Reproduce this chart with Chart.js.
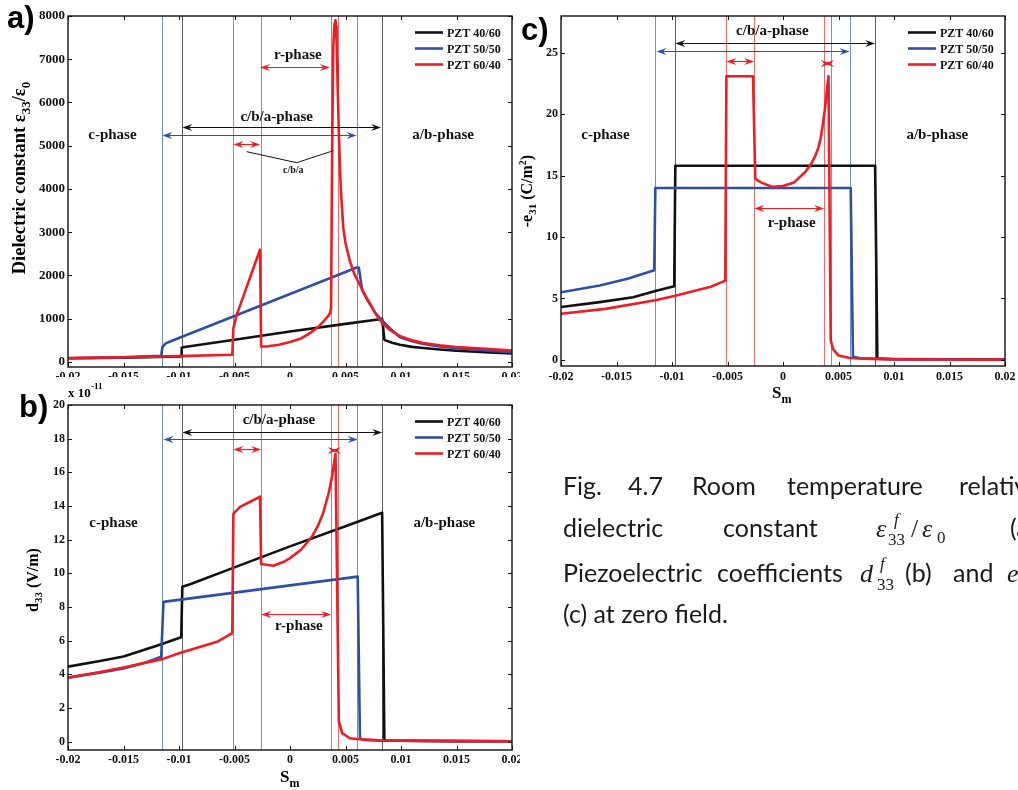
<!DOCTYPE html>
<html>
<head>
<meta charset="utf-8">
<script src="https://cdn.jsdelivr.net/npm/chart.js@4.4.1/dist/chart.umd.min.js"></script>
<style>
html,body{margin:0;padding:0;background:#fff;width:1018px;height:790px;overflow:hidden;}
.box{position:absolute;}
.box canvas{display:block;}
#ov{position:absolute;left:0;top:0;pointer-events:none;}
</style>
</head>
<body>
<div class="box" style="left:0;top:0;width:520px;height:377px"><canvas id="ca" width="520" height="377"></canvas></div>
<div class="box" style="left:0;top:380px;width:520px;height:410px"><canvas id="cb" width="520" height="410"></canvas></div>
<div class="box" style="left:520px;top:0;width:498px;height:400px"><canvas id="cc" width="498" height="400"></canvas></div>

<svg id="ov" width="1018" height="790" xmlns="http://www.w3.org/2000/svg">
  <g font-family="Liberation Sans, Arial, sans-serif" font-weight="bold" font-size="31" fill="#000">
    <text x="7" y="28">a)</text>
    <text x="19" y="417">b)</text>
    <text x="521" y="40">c)</text>
  </g>
  <g font-family="Liberation Serif, Times New Roman, serif" font-weight="bold" fill="#000">
    <text font-size="18.5" text-anchor="middle" transform="translate(25,178) rotate(-90)">Dielectric constant ε<tspan font-size="13" dy="5">33</tspan><tspan dy="-5">/ε</tspan><tspan font-size="13" dy="5">0</tspan></text>
    <text font-size="16" text-anchor="middle" transform="translate(38,580) rotate(-90)">d<tspan font-size="11" dy="4">33</tspan><tspan dy="-4"> (V/m)</tspan></text>
    <text font-size="16" text-anchor="middle" transform="translate(532,191) rotate(-90)">-e<tspan font-size="11" dy="4">31</tspan><tspan dy="-4"> (C/m</tspan><tspan font-size="10" dy="-6">2</tspan><tspan dy="6">)</tspan></text>
    <text x="280" y="782" font-size="17">S<tspan font-size="12" dy="5">m</tspan></text>
    <text x="772" y="398" font-size="17">S<tspan font-size="12" dy="5">m</tspan></text>
    <text x="68" y="397" font-size="13">x 10</text>
    <text x="91" y="389" font-size="9">-11</text>
  </g>
  <g font-family="Lato, Open Sans, sans-serif" font-size="25" fill="#1a1a1a">
    <text x="563" y="495">Fig.</text>
    <text x="628" y="495">4.7</text>
    <text x="692" y="495">Room</text>
    <text x="787" y="495">temperature</text>
    <text x="959" y="495">relative</text>
    <text x="563" y="537">dielectric</text>
    <text x="723" y="537">constant</text>
    <text x="1010" y="537">(a),</text>
    <text x="563" y="582">Piezoelectric</text>
    <text x="717" y="582">coefficients</text>
    <text x="905" y="582">(b)</text>
    <text x="953" y="582">and</text>
    <text x="563" y="623">(c) at zero field.</text>
  </g>
  <g font-family="Liberation Serif, serif" fill="#1a1a1a">
    <text x="876" y="537" font-size="26" font-style="italic">ε</text>
    <text x="894" y="525" font-size="17" font-style="italic">f</text>
    <text x="888" y="545" font-size="17">33</text>
    <text x="911" y="537" font-size="26">/</text>
    <text x="922" y="537" font-size="26" font-style="italic">ε</text>
    <text x="937" y="543" font-size="17">0</text>
    <text x="860" y="582" font-size="26" font-style="italic">d</text>
    <text x="880" y="569" font-size="17" font-style="italic">f</text>
    <text x="877" y="590" font-size="17">33</text>
    <text x="1007" y="582" font-size="26" font-style="italic">e</text>
  </g>
</svg>

<script>
// ---------------- tick values ----------------
const xTicks  = [-0.02, -0.015, -0.01, -0.005, 0, 0.005, 0.01, 0.015, 0.02];
const yTicksA = [0, 1000, 2000, 3000, 4000, 5000, 6000, 7000, 8000];
const yTicksB = [0, 2, 4, 6, 8, 10, 12, 14, 16, 18, 20];
const yTicksC = [0, 5, 10, 15, 20, 25];

// ---------------- series ----------------
const seriesNames  = ['PZT 40/60', 'PZT 50/50', 'PZT 60/40'];
const seriesColors = ['#111111', '#2f4fa6', '#ee1c25'];

// (a) dielectric constant eps33/eps0 vs misfit strain S_m
const sA_4060   = [-0.02, -0.015, -0.0098, -0.00976, -0.0095, -0.005, 0, 0.005, 0.0081, 0.0083, 0.0085, 0.0086, 0.0092, 0.0099, 0.011, 0.012, 0.0135, 0.015, 0.018, 0.02];
const epsA_4060 = [85, 100, 130, 330, 345, 515, 705, 881, 990, 1000, 520, 500, 445, 400, 350, 322, 288, 260, 221, 195];
const sA_5050   = [-0.02, -0.015, -0.0116, -0.0115, -0.0112, -0.0108, -0.005, 0, 0.005, 0.006, 0.0062, 0.0065, 0.007, 0.0077, 0.0083, 0.009, 0.0099, 0.011, 0.012, 0.0135, 0.015, 0.018, 0.02];
const epsA_5050 = [85, 110, 145, 345, 430, 474, 1064, 1572, 2081, 2183, 2183, 1662, 1420, 1130, 960, 780, 570, 480, 415, 360, 320, 258, 225];
const sA_6040   = [-0.02, -0.015, -0.01, -0.0052, -0.0051, -0.0048, -0.0043, -0.0039, -0.0033, -0.0027, -0.0026, -0.002, -0.001, 0, 0.001, 0.0018, 0.0025, 0.003, 0.0034, 0.0036, 0.0037, 0.0038, 0.0039, 0.004, 0.0041, 0.00415, 0.0042, 0.00425, 0.0043, 0.0044, 0.0045, 0.0046, 0.0048, 0.005, 0.0054, 0.0058, 0.0063, 0.0068, 0.0072, 0.0077, 0.0083, 0.009, 0.0099, 0.011, 0.012, 0.0135, 0.015, 0.018, 0.02];
const epsA_6040 = [90, 110, 135, 168, 782, 1087, 1449, 1738, 2168, 2598, 359, 362, 400, 462, 545, 667, 800, 933, 1050, 1126, 1250, 5000, 7300, 7800, 7900, 7750, 7400, 6900, 6300, 5300, 4500, 3900, 3100, 2750, 2330, 2030, 1780, 1530, 1356, 1120, 900, 740, 600, 500, 440, 385, 345, 299, 267];

// (b) d33 (x 1e-11)
const sB_4060 = [-0.02, -0.017, -0.015, -0.012, -0.0098, -0.0097, -0.009, -0.005, 0, 0.005, 0.0083, 0.0085, 0.0087, 0.01, 0.015, 0.02];
const dB_4060 = [4.45, 4.8, 5.05, 5.7, 6.2, 9.2, 9.35, 10.35, 11.6, 12.8, 13.6, 0.1, 0.05, 0.05, 0.03, 0.02];
const sB_5050 = [-0.02, -0.017, -0.015, -0.013, -0.0116, -0.0114, -0.005, 0, 0.0061, 0.0063, 0.0066, 0.008, 0.01, 0.015, 0.02];
const dB_5050 = [3.8, 4.1, 4.35, 4.7, 5.05, 8.3, 8.85, 9.28, 9.8, 0.2, 0.1, 0.06, 0.05, 0.03, 0.02];
const sB_6040 = [-0.02, -0.017, -0.015, -0.0115, -0.01, -0.0065, -0.0052, -0.0051, -0.0045, -0.0027, -0.0026, -0.0015, -0.0005, 0, 0.001, 0.002, 0.0025, 0.003, 0.0035, 0.0038, 0.004, 0.0041, 0.00425, 0.0044, 0.0047, 0.0054, 0.006, 0.008, 0.01, 0.015, 0.02];
const dB_6040 = [3.8, 4.15, 4.4, 4.9, 5.25, 5.95, 6.45, 13.55, 13.95, 14.55, 10.55, 10.45, 10.7, 10.9, 11.4, 12.2, 12.8, 13.6, 14.8, 15.8, 16.7, 17.1, 9, 1.2, 0.5, 0.2, 0.15, 0.08, 0.05, 0.03, 0.02];

// (c) -e31
const sC_4060 = [-0.02, -0.0165, -0.0135, -0.0115, -0.0098, -0.0097, 0.0083, 0.0085, 0.01, 0.015, 0.02];
const eC_4060 = [4.3, 4.7, 5.1, 5.6, 6.0, 15.8, 15.8, 0.1, 0.05, 0.05, 0.03];
const sC_5050 = [-0.02, -0.0165, -0.014, -0.0116, -0.0115, 0.0061, 0.0063, 0.007, 0.01, 0.015, 0.02];
const eC_5050 = [5.5, 6.05, 6.6, 7.3, 14.0, 14.0, 0.25, 0.12, 0.06, 0.05, 0.03];
const sC_6040 = [-0.02, -0.016, -0.0115, -0.0098, -0.0065, -0.0052, -0.0051, -0.0027, -0.0025, -0.002, -0.001, 0, 0.001, 0.002, 0.0025, 0.0029, 0.0032, 0.0034, 0.0036, 0.0038, 0.0039, 0.0041, 0.0042, 0.0043, 0.0045, 0.005, 0.006, 0.008, 0.01, 0.015, 0.02];
const eC_6040 = [3.75, 4.15, 4.85, 5.2, 5.95, 6.45, 23.1, 23.1, 14.75, 14.45, 14.1, 14.15, 14.45, 15.3, 15.9, 16.6, 17.3, 18.1, 19.2, 20.6, 21.5, 23.1, 12, 1.6, 0.9, 0.35, 0.15, 0.08, 0.05, 0.03, 0.02];

// phase-boundary strains (vertical guide lines)
const boundBlue  = [-0.0115, 0.006];
const boundBlack = [-0.0097, 0.0083];
const boundRed   = [-0.0051, -0.0026, 0.0037, 0.0043];

// ---------------- helpers ----------------
const SERIF = '"Liberation Serif", "Times New Roman", serif';
function fmtX(v){ const s = String(parseFloat(Number(v).toFixed(4))); return s === '-0' ? '0' : s; }
function pts(xs, ys){ return xs.map((x, i) => ({x: x, y: ys[i]})); }
function mkSets(triples){
  return triples.map((t, i) => ({
    label: seriesNames[i], data: pts(t[0], t[1]),
    borderColor: seriesColors[i], backgroundColor: seriesColors[i],
    borderWidth: 2.6, pointRadius: 0, fill: false, tension: 0,
    borderJoinStyle: 'round', order: 2 - i
  }));
}

function makeDecor(cfg){
  return {
    id: 'decor',
    beforeDatasetsDraw(chart){
      const {ctx, chartArea: a, scales: {x}} = chart;
      ctx.save();
      ctx.lineWidth = 1;
      const groups = [[boundBlue, 'rgba(70,100,190,0.75)'], [boundBlack, 'rgba(40,40,40,0.75)'], [boundRed, 'rgba(238,40,40,0.7)']];
      for (const [arr, col] of groups){
        ctx.strokeStyle = col;
        for (const s of arr){
          const px = Math.round(x.getPixelForValue(s)) + 0.5;
          ctx.beginPath(); ctx.moveTo(px, a.top); ctx.lineTo(px, a.bottom); ctx.stroke();
        }
      }
      ctx.restore();
    },
    afterDatasetsDraw(chart){
      const {ctx, chartArea: a, scales: {x, y}} = chart;
      ctx.save();
      const head = (px, py, dir) => {
        ctx.beginPath();
        ctx.moveTo(px, py);
        ctx.lineTo(px + dir * 10, py - 3.6);
        ctx.lineTo(px + dir * 6.5, py);
        ctx.lineTo(px + dir * 10, py + 3.6);
        ctx.closePath(); ctx.fill();
      };
      for (const ar of cfg.arrows){
        const x1 = x.getPixelForValue(ar[0]), x2 = x.getPixelForValue(ar[1]), py = Math.round(y.getPixelForValue(ar[2])) + 0.5;
        ctx.strokeStyle = ar[3]; ctx.fillStyle = ar[3]; ctx.lineWidth = 1.2;
        ctx.beginPath(); ctx.moveTo(x1 + 2, py); ctx.lineTo(x2 - 2, py); ctx.stroke();
        head(x1, py, 1); head(x2, py, -1);
      }
      ctx.strokeStyle = '#111'; ctx.lineWidth = 1;
      for (const p of (cfg.pointers || [])){
        ctx.beginPath();
        ctx.moveTo(x.getPixelForValue(p[0]), y.getPixelForValue(p[1]));
        ctx.lineTo(x.getPixelForValue(p[2]), y.getPixelForValue(p[3]));
        ctx.stroke();
      }
      ctx.fillStyle = '#111'; ctx.textAlign = 'center'; ctx.textBaseline = 'middle';
      for (const t of cfg.texts){
        ctx.font = 'bold ' + (t[3] || 15) + 'px ' + SERIF;
        ctx.fillText(t[0], x.getPixelForValue(t[1]), y.getPixelForValue(t[2]));
      }
      ctx.textAlign = 'left'; ctx.font = 'bold 12px ' + SERIF;
      chart.data.datasets.forEach((ds, i) => {
        const ly = Math.round(a.top + 15.5 + 16 * i) + 0.5;
        ctx.strokeStyle = ds.borderColor; ctx.lineWidth = 2.6;
        ctx.beginPath(); ctx.moveTo(a.right - 97, ly); ctx.lineTo(a.right - 69, ly); ctx.stroke();
        ctx.fillStyle = '#111';
        ctx.fillText(ds.label, a.right - 65, ly + 1);
      });
      ctx.strokeStyle = '#111'; ctx.lineWidth = 1.4;
      ctx.strokeRect(a.left, a.top, a.width, a.height);
      ctx.lineWidth = 1;
      for (const t of x.ticks){
        const px = Math.round(x.getPixelForValue(t.value)) + 0.5;
        ctx.beginPath(); ctx.moveTo(px, a.bottom); ctx.lineTo(px, a.bottom - 4);
        ctx.moveTo(px, a.top); ctx.lineTo(px, a.top + 4); ctx.stroke();
      }
      for (const t of y.ticks){
        const py = Math.round(y.getPixelForValue(t.value)) + 0.5;
        ctx.beginPath(); ctx.moveTo(a.left, py); ctx.lineTo(a.left + 4, py);
        ctx.moveTo(a.right, py); ctx.lineTo(a.right - 4, py); ctx.stroke();
      }
      ctx.restore();
    }
  };
}

function makeChart(id, o){
  return new Chart(document.getElementById(id), {
    type: 'line',
    data: { datasets: o.datasets },
    plugins: [makeDecor(o.decor)],
    options: {
      responsive: false, animation: false, devicePixelRatio: 1, events: [],
      layout: { padding: o.pad },
      plugins: { legend: { display: false }, tooltip: { enabled: false }, title: { display: false } },
      scales: {
        x: {
          type: 'linear', min: -0.02, max: 0.02,
          afterBuildTicks: s => { s.ticks = xTicks.map(v => ({value: v})); },
          afterFit: s => { s.height = o.xH; s.paddingLeft = 0; s.paddingRight = 0; },
          ticks: { autoSkip: false, maxRotation: 0, minRotation: 0, padding: o.xPad, color: '#111',
                   font: { family: SERIF, weight: 'bold', size: 12 }, callback: v => fmtX(v) },
          grid: { display: false, drawTicks: false }, border: { display: false }
        },
        y: {
          type: 'linear', min: o.yMin, max: o.yMax,
          afterBuildTicks: s => { s.ticks = o.yTicks.map(v => ({value: v})); },
          afterFit: s => { s.width = o.yW; s.paddingTop = 0; s.paddingBottom = 0; },
          ticks: { autoSkip: false, padding: 3, color: '#111',
                   font: { family: SERIF, weight: 'bold', size: o.yFont }, callback: v => String(v) },
          grid: { display: false, drawTicks: false }, border: { display: false }
        }
      }
    }
  });
}

const RED = '#ee1c25', BLUE = '#2f4fa6', BLK = '#111111';

makeChart('ca', {
  pad: {left: 0, top: 16, right: 8, bottom: 0}, yW: 68, xH: 10, xPad: 3,
  yMin: -116, yMax: 8000, yTicks: yTicksA, yFont: 13,
  datasets: mkSets([[sA_4060, epsA_4060], [sA_5050, epsA_5050], [sA_6040, epsA_6040]]),
  decor: {
    arrows: [[-0.0097, 0.0082, 5426, BLK], [-0.0115, 0.0060, 5242, BLUE], [-0.0051, -0.0027, 5040, RED], [-0.0027, 0.0036, 6814, RED]],
    pointers: [[-0.0039, 4862, 0.0006, 4608], [0.0006, 4608, 0.0039, 4885]],
    texts: [['c-phase', -0.016, 5250], ['a/b-phase', 0.0138, 5250], ['c/b/a-phase', -0.0012, 5660], ['r-phase', 0.0007, 7100], ['c/b/a', 0.0003, 4440, 10]]
  }
});

makeChart('cb', {
  pad: {left: 0, top: 25, right: 8, bottom: 0}, yW: 68, xH: 40, xPad: 3,
  yMin: -0.5, yMax: 20, yTicks: yTicksB, yFont: 12,
  datasets: mkSets([[sB_4060, dB_4060], [sB_5050, dB_5050], [sB_6040, dB_6040]]),
  decor: {
    arrows: [[-0.0097, 0.0083, 18.4, BLK], [-0.0114, 0.0061, 17.98, BLUE], [-0.0051, -0.0026, 17.36, RED], [0.0037, 0.0043, 17.3, RED], [-0.0026, 0.0037, 7.6, RED]],
    texts: [['c-phase', -0.0159, 13.0], ['a/b-phase', 0.0139, 13.0], ['c/b/a-phase', -0.001, 19.1], ['r-phase', 0.0008, 6.85]]
  }
});

makeChart('cc', {
  pad: {left: 0, top: 16, right: 13, bottom: 0}, yW: 41, xH: 34, xPad: 4,
  yMin: -0.5, yMax: 28, yTicks: yTicksC, yFont: 12,
  datasets: mkSets([[sC_4060, eC_4060], [sC_5050, eC_5050], [sC_6040, eC_6040]]),
  decor: {
    arrows: [[-0.0097, 0.0083, 25.8, BLK], [-0.0114, 0.006, 25.13, BLUE], [-0.0051, -0.0026, 24.3, RED], [0.0037, 0.0043, 24.2, RED], [-0.0026, 0.0037, 12.35, RED]],
    texts: [['c-phase', -0.016, 18.27], ['a/b-phase', 0.0139, 18.27], ['c/b/a-phase', -0.00096, 26.76], ['r-phase', 0.00078, 11.15]]
  }
});
</script>
</body>
</html>
